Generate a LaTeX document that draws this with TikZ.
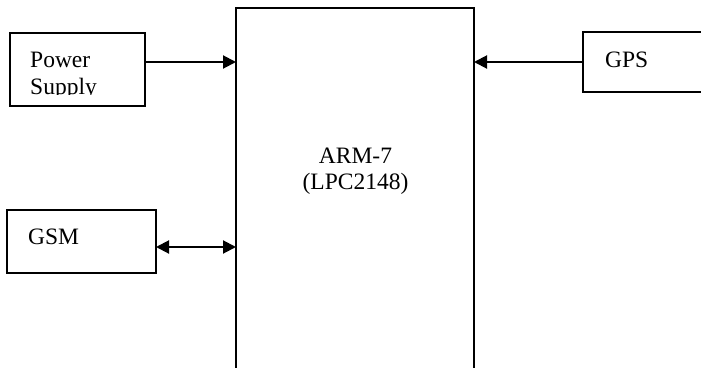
\documentclass[tikz,border=0pt]{standalone}
\usepackage{fontspec}
\setmainfont{Liberation Serif}
\usetikzlibrary{arrows.meta}
\begin{document}
\begin{tikzpicture}[x=1pt,y=-1pt,
  blk/.style={draw,line width=1.4pt,inner sep=0pt,outer sep=0pt},
  lbl/.style={font=\fontsize{23.5}{27}\selectfont,inner sep=0pt,anchor=base west},
  arr/.style={line width=2pt,-{Triangle[length=13pt,width=13pt]}},
  darr/.style={line width=2pt,{Triangle[length=13pt,width=13pt]}-{Triangle[length=13pt,width=13pt]}}]
\useasboundingbox (0,0) rectangle (701,367);
% blocks
\node[blk,minimum width=238pt,minimum height=400pt] (arm) at (355,208) {};
\node[blk,minimum width=135pt,minimum height=73pt] (power) at (77.5,69.5) {};
\node[blk,minimum width=140pt,minimum height=60pt] (gps) at (653,62) {};
\node[blk,minimum width=149pt,minimum height=63pt] (gsm) at (81.5,241.5) {};
% labels
\node[font=\fontsize{23.5}{25.5}\selectfont,align=center,inner sep=0pt] (armtxt) at (355.5,171) {ARM-7\\(LPC2148)};
\begin{scope}
\clip (10,33) rectangle (145,94);
\node[lbl] (pwrtxt1) at (30,67) {Power};
\node[lbl] (pwrtxt2) at (30,94) {Supply};
\end{scope}
\node[lbl] (gpstxt) at (605,67) {GPS};
\node[lbl] (gsmtxt) at (28,244) {GSM};
% connectors
\coordinate (yp) at (0,62);
\coordinate (yg) at (0,247);
\draw[arr] (power.east |- yp) -- (arm.west |- yp);
\draw[arr] (gps.west) -- (arm.east |- gps.west);
\draw[darr] (gsm.east |- yg) -- (arm.west |- yg);
\end{tikzpicture}
\end{document}
